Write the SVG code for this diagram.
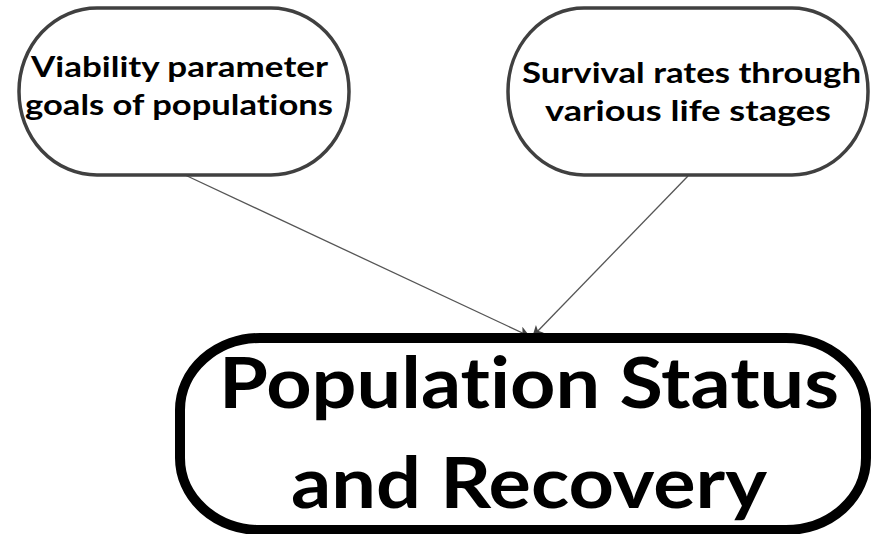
<svg xmlns="http://www.w3.org/2000/svg" width="872" height="534" viewBox="0 0 872 534">
  <defs>
    <marker id="arrow" viewBox="0 0 10 10" refX="9" refY="5" markerWidth="15" markerHeight="11" markerUnits="userSpaceOnUse" orient="auto">
      <path d="M0,0 L10,5 L0,10 L2.5,5 Z" fill="#444"/>
    </marker>
  </defs>
  <style>
    .small { fill: #fff; stroke: #404040; stroke-width: 3.5; }
    .big { fill: #fff; stroke: #000; stroke-width: 10; }
    .lbl { font-family: Lato, "Open Sans", "Liberation Sans", sans-serif; font-weight: bold; fill: #000; text-anchor: middle; font-variant-ligatures: none; }
    .s { font-size: 29px; }
    .l { font-size: 70px; }
    .edge { stroke: #555; stroke-width: 1.3; fill: none; marker-end: url(#arrow); }
  </style>
  <rect width="872" height="534" fill="#fff"/>

  <g id="connectors">
    <line class="edge" x1="185" y1="175" x2="529" y2="336"/>
    <line class="edge" x1="688" y1="176" x2="533" y2="336"/>
  </g>

  <g id="viability">
    <rect class="small" x="19" y="8" width="330" height="167" rx="78" ry="83"/>
    <text class="lbl s" x="179.5" y="77" textLength="297" lengthAdjust="spacingAndGlyphs">Viability parameter</text>
    <text class="lbl s" x="179" y="115" textLength="308" lengthAdjust="spacingAndGlyphs">goals of populations</text>
  </g>

  <g id="survival">
    <rect class="small" x="508" y="8" width="360" height="167" rx="76" ry="83"/>
    <text class="lbl s" x="691.5" y="83" textLength="339" lengthAdjust="spacingAndGlyphs">Survival rates through</text>
    <text class="lbl s" x="688" y="121" textLength="286" lengthAdjust="spacingAndGlyphs">various life stages</text>
  </g>

  <g id="population">
    <rect class="big" x="180" y="338" width="686" height="192" rx="80" ry="72"/>
    <text class="lbl l" x="529" y="408" textLength="620" lengthAdjust="spacingAndGlyphs">Population Status</text>
    <text class="lbl l" x="529" y="508" textLength="476" lengthAdjust="spacingAndGlyphs">and Recovery</text>
  </g>
</svg>
